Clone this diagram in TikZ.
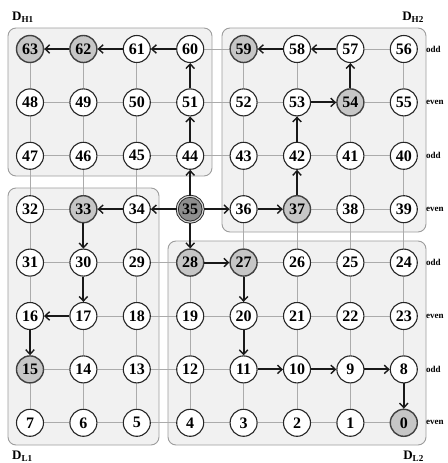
\documentclass[tikz,border=0pt]{standalone}
\usepackage{fontspec}
\setmainfont{Liberation Serif}
\usetikzlibrary{arrows.meta,backgrounds}
\definecolor{boxfill}{HTML}{F1F1F1}
\definecolor{boxline}{HTML}{9C9C9C}
\definecolor{gridline}{HTML}{ABABAB}
\definecolor{gnode}{HTML}{C6C6C6}
\definecolor{dnode}{HTML}{8E8E8E}
\tikzset{
  nd/.style={circle,draw=black!85,line width=1.1pt,fill=white,minimum size=27pt,inner sep=0pt,
    font=\fontsize{16}{16}\selectfont\bfseries},
  gnd/.style={fill=gnode,draw=black!75,line width=1.4pt},
  snd/.style={fill=dnode,draw=black!85,line width=0.9pt,double=gray!35,double distance=1.2pt,minimum size=26pt},
  s63/.style=gnd, s62/.style=gnd, s33/.style=gnd, s15/.style=gnd, s59/.style=gnd,
  s54/.style=gnd, s37/.style=gnd, s28/.style=gnd, s27/.style=gnd, s0/.style=gnd,
  s35/.style=snd,
  arr/.style={line width=2pt,black!90,-{Straight Barb[length=4.5pt,width=8.5pt,line width=1.4pt]}},
  gl/.style={gridline,line width=0.9pt},
  region/.style={draw=boxline,fill=boxfill,line width=0.9pt,rounded corners=8pt},
  parity/.style={anchor=west,font=\fontsize{9}{9}\selectfont\bfseries,inner sep=0pt},
  dlab/.style={font=\fontsize{13}{13}\selectfont\bfseries,inner sep=0pt}
}
\begin{document}
\begin{tikzpicture}[x=1pt,y=-1pt]
\useasboundingbox (0,0) rectangle (447,463);
\foreach \r/\lst in {0/{63,62,61,60,59,58,57,56},1/{48,49,50,51,52,53,54,55},
  2/{47,46,45,44,43,42,41,40},3/{32,33,34,35,36,37,38,39},4/{31,30,29,28,27,26,25,24},
  5/{16,17,18,19,20,21,22,23},6/{15,14,13,12,11,10,9,8},7/{7,6,5,4,3,2,1,0}}{
  \foreach \v [count=\c from 0] in \lst {
    \node[nd,s\v/.try] (n\v) at ({30+53.4*\c},{49+53.4*\r}) {\v};
  }
}
\begin{scope}[on background layer]
  \draw[region] (8,28) rectangle (212,176);
  \draw[region] (222,28) rectangle (426,232);
  \draw[region] (8,188) rectangle (159,445);
  \draw[region] (168,241) rectangle (426,445);
  % horizontal grid
  \foreach \a/\b in {63/62,62/61,61/60,60/59,59/58,58/57,57/56,
    48/49,49/50,50/51,51/52,52/53,53/54,54/55,
    47/46,46/45,45/44,44/43,43/42,42/41,41/40,
    32/33,33/34,34/35,35/36,36/37,37/38,38/39,
    31/30,30/29,29/28,28/27,27/26,26/25,25/24,
    16/17,17/18,18/19,19/20,20/21,21/22,22/23,
    15/14,14/13,13/12,12/11,11/10,10/9,9/8,
    7/6,6/5,5/4,4/3,3/2,2/1,1/0}
    \draw[gl] (n\a) -- (n\b);
  % vertical grid
  \foreach \a/\b in {63/48,48/47,47/32,32/31,31/16,16/15,15/7,
    62/49,49/46,46/33,33/30,30/17,17/14,14/6,
    61/50,50/45,45/34,34/29,29/18,18/13,13/5,
    60/51,51/44,44/35,35/28,28/19,19/12,12/4,
    59/52,52/43,43/36,36/27,27/20,20/11,11/3,
    58/53,53/42,42/37,37/26,26/21,21/10,10/2,
    57/54,54/41,41/38,38/25,25/22,22/9,9/1,
    56/55,55/40,40/39,39/24,24/23,23/8,8/0}
    \draw[gl] (n\a) -- (n\b);
\end{scope}
% routes
\foreach \a/\b in {35/44,44/51,51/60,60/61,61/62,62/63,
  35/34,34/33,33/30,30/17,17/16,16/15,
  35/36,36/37,37/42,42/53,53/54,54/57,57/58,58/59,
  35/28,28/27,27/20,20/11,11/10,10/9,9/8,8/0}
  \draw[arr] (n\a) -- (n\b);
% parity labels
\foreach \r/\t in {0/odd,1/even,2/odd,3/even,4/odd,5/even,6/odd,7/even}
  \node[parity] (p\r) at (426,{49+53.4*\r}) {\t};
% region labels
\node[dlab,anchor=west] (dh1) at (12,17) {D\textsubscript{H1}};
\node[dlab,anchor=east] (dh2) at (424,17) {D\textsubscript{H2}};
\node[dlab,anchor=west] (dl1) at (12,456) {D\textsubscript{L1}};
\node[dlab,anchor=east] (dl2) at (424,456) {D\textsubscript{L2}};
\end{tikzpicture}
\end{document}
